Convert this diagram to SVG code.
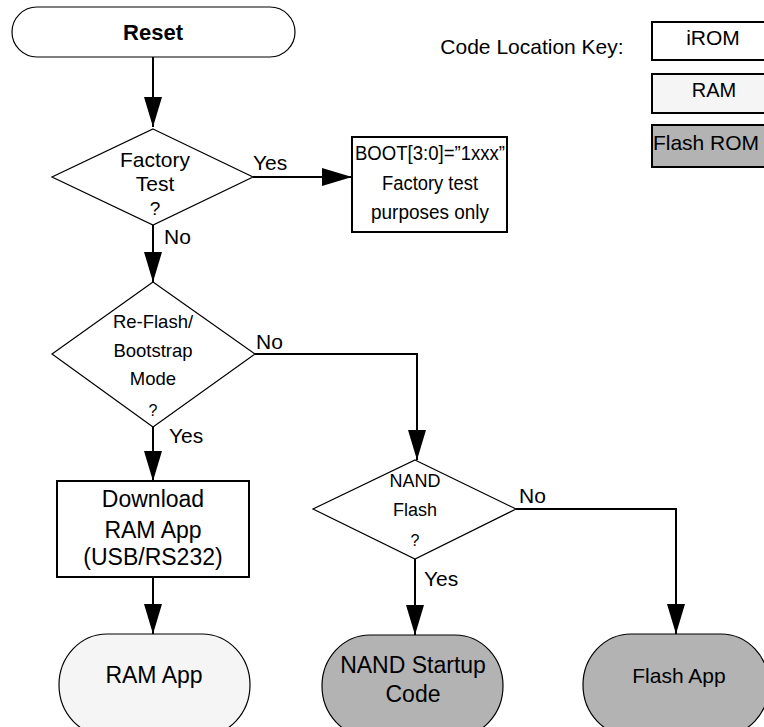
<svg xmlns="http://www.w3.org/2000/svg" width="764" height="727" viewBox="0 0 764 727">
<defs>
<style>
text{font-family:"Liberation Sans",Arial,sans-serif;fill:#000;text-anchor:middle}
.term{stroke:#000;stroke-width:1.2}
.box{fill:#fff;stroke:#000;stroke-width:2}
.dia{fill:#fff;stroke:#000;stroke-width:1.2}
.conn{fill:none;stroke:#000;stroke-width:2}
.lbl{font-size:21px;text-anchor:start}
</style>
<marker id="arr" viewBox="0 0 30 18" refX="30" refY="9" markerWidth="30" markerHeight="18" markerUnits="userSpaceOnUse" orient="auto">
<path d="M0,0 L30,9 L0,18 Z" fill="#000"/>
</marker>
</defs>
<rect width="764" height="727" fill="#fff"/>
<g id="connectors">
<path class="conn" d="M153,57 V127" marker-end="url(#arr)"/>
<path class="conn" d="M253,177 H352" marker-end="url(#arr)"/>
<path class="conn" d="M153,225 V282" marker-end="url(#arr)"/>
<path class="conn" d="M255,354 H417 V460" marker-end="url(#arr)"/>
<path class="conn" d="M153,427 V481" marker-end="url(#arr)"/>
<path class="conn" d="M153,577 V634" marker-end="url(#arr)"/>
<path class="conn" d="M516,509 H676 V634" marker-end="url(#arr)"/>
<path class="conn" d="M415,559 V635" marker-end="url(#arr)"/>
<text class="lbl" x="253" y="170">Yes</text>
<text class="lbl" x="164" y="244">No</text>
<text class="lbl" x="256" y="349">No</text>
<text class="lbl" x="169" y="443">Yes</text>
<text class="lbl" x="519" y="503">No</text>
<text class="lbl" x="424" y="586">Yes</text>
</g>
<g id="reset">
<rect class="term" x="12" y="7" width="283" height="50" rx="25" ry="25" fill="#fff"/>
<text x="153" y="40" style="font-size:22px;font-weight:bold">Reset</text>
</g>
<g id="factory-test">
<polygon class="dia" points="153,129 253,177 153,225 52,177"/>
<text x="155" y="167" style="font-size:21px">Factory</text>
<text x="155" y="191" style="font-size:21px">Test</text>
<text x="155" y="215" style="font-size:19px">?</text>
</g>
<g id="boot-box">
<rect class="box" x="352" y="137" width="155" height="95"/>
<text x="430" y="160" style="font-size:20px" textLength="150" lengthAdjust="spacingAndGlyphs">BOOT[3:0]=”1xxx”</text>
<text x="430" y="190" style="font-size:20px" textLength="96" lengthAdjust="spacingAndGlyphs">Factory test</text>
<text x="430" y="219" style="font-size:20px" textLength="118" lengthAdjust="spacingAndGlyphs">purposes only</text>
</g>
<g id="reflash">
<polygon class="dia" points="153,282 255,354 153,427 52,354"/>
<text x="153" y="328" style="font-size:18.5px">Re-Flash/</text>
<text x="153" y="357" style="font-size:18.5px">Bootstrap</text>
<text x="153" y="385" style="font-size:18.5px">Mode</text>
<text x="153" y="416" style="font-size:16px">?</text>
</g>
<g id="download">
<rect class="box" x="57" y="481" width="192" height="96"/>
<text x="153" y="507" style="font-size:23px">Download</text>
<text x="153" y="538" style="font-size:23px">RAM App</text>
<text x="153" y="565" style="font-size:23px">(USB/RS232)</text>
</g>
<g id="nand-flash">
<polygon class="dia" points="415,460 516,509 415,559 313,509"/>
<text x="415" y="487" style="font-size:18px">NAND</text>
<text x="415" y="516" style="font-size:18px">Flash</text>
<text x="415" y="546" style="font-size:16px">?</text>
</g>
<g id="ram-app">
<rect class="term" x="59" y="634" width="191" height="102" rx="48" ry="51" fill="#f5f5f5"/>
<text x="154" y="683" style="font-size:23px">RAM App</text>
</g>
<g id="nand-startup">
<rect class="term" x="322" y="635" width="181" height="102" rx="48" ry="51" fill="#b3b3b3"/>
<text x="413" y="673" style="font-size:23px">NAND Startup</text>
<text x="413" y="702" style="font-size:23px">Code</text>
</g>
<g id="flash-app">
<rect class="term" x="583" y="634" width="186" height="102" rx="48" ry="51" fill="#b3b3b3"/>
<text x="679" y="683" style="font-size:21px">Flash App</text>
</g>
<g id="key">
<text x="532" y="54" style="font-size:21px">Code Location Key:</text>
<rect class="box" x="652" y="22" width="122" height="38"/>
<text x="713" y="45" style="font-size:21px">iROM</text>
<rect class="box" x="652" y="74" width="122" height="39" style="fill:#f5f5f5"/>
<text x="714" y="97" style="font-size:20px">RAM</text>
<rect class="box" x="652" y="125" width="122" height="42" style="fill:#b3b3b3"/>
<text x="706" y="150" style="font-size:21px">Flash ROM</text>
</g>
</svg>
